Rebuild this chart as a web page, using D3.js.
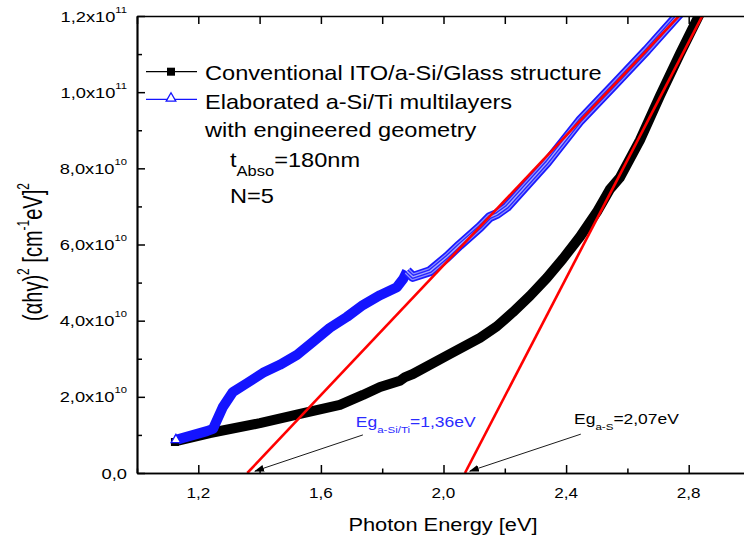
<!DOCTYPE html>
<html>
<head>
<meta charset="utf-8">
<script src="https://cdn.jsdelivr.net/npm/d3@7"></script>
<style>
  body { margin: 0; background: #fff; }
  svg { display: block; }
  text { font-family: "Liberation Sans", Arial, sans-serif; fill: #000; }
</style>
</head>
<body>
<svg id="chart" width="744" height="544"></svg>
<script>
// values; absorption in units of 1e10 cm^-2 eV^2
const blackE = [1.127, 1.238, 1.401, 1.532, 1.662, 1.737, 1.793, 1.858, 1.875, 1.900, 2.011, 2.119,
                2.174, 2.226, 2.282, 2.337, 2.389, 2.445, 2.500, 2.543, 2.575, 2.641, 2.706, 2.771, 2.845];
const blackA = [0.84, 1.05, 1.31, 1.55, 1.79, 2.05, 2.26, 2.42, 2.52, 2.60, 3.08, 3.55,
                3.85, 4.22, 4.65, 5.12, 5.62, 6.20, 6.85, 7.45, 7.75, 8.74, 9.90, 11.0, 12.2];

const blueE = [1.127, 1.228, 1.248, 1.280, 1.313, 1.359, 1.411, 1.466, 1.522, 1.574, 1.629, 1.685,
               1.737, 1.793, 1.848, 1.868, 1.881, 1.900, 1.956, 2.011, 2.053, 2.119, 2.151, 2.174,
               2.207, 2.337, 2.445, 2.553, 2.663, 2.785];
const blueA = [0.87, 1.10, 1.16, 1.73, 2.13, 2.36, 2.63, 2.84, 3.10, 3.44, 3.81, 4.10,
               4.41, 4.67, 4.88, 5.09, 5.30, 5.15, 5.30, 5.67, 5.99, 6.46, 6.72, 6.80,
               6.99, 8.15, 9.25, 10.16, 11.10, 12.2];

// linear fits (Tauc) : intercept and slope
const fitEg = [1.36, 2.07];
const fitSlope = [8.52, 15.5];

const xMajor = [1.2, 1.6, 2.0, 2.4, 2.8];
const xMinor = [1.0, 1.4, 1.8, 2.2, 2.6, 3.0];
const yMajor = [0, 2, 4, 6, 8, 10, 12];
const yMinor = [1, 3, 5, 7, 9, 11];
const rightTicks = [1, 2, 3, 4];

const legendNames = ["Conventional ITO/a-Si/Glass structure", "Elaborated a-Si/Ti multilayers"];

// annotations: text anchor and arrow (tail -> tip) in data units
const notes = [
  {main: "Eg", sub: "a-Si/Ti", rest: "=1,36eV", color: "#2b2bff", tE: 1.714, tA: 1.22, aE: [1.737, 1.385], aA: [1.0, 0.05]},
  {main: "Eg", sub: "a-S", rest: "=2,07eV", color: "#000", tE: 2.426, tA: 1.29, aE: [2.448, 2.086], aA: [1.02, 0.05]}
];

const SX = 1.18; // the picture is a bit wider than it is tall

const svg = d3.select("#chart");
const x = d3.scaleLinear().domain([1.0, 3.0]).range([137, 750]);
const y = d3.scaleLinear().domain([0, 12]).range([473, 16]);
const yR = d3.scaleLinear().domain([-0.21, 5]).range([473, 16]);

svg.append("rect").attr("width", 744).attr("height", 544).attr("fill", "#fff");

const defs = svg.append("defs");
defs.append("clipPath").attr("id", "plot")
  .append("rect").attr("x", 137).attr("y", 16).attr("width", 613).attr("height", 457);
defs.append("marker").attr("id", "head")
  .attr("markerUnits", "userSpaceOnUse")
  .attr("markerWidth", 10).attr("markerHeight", 8)
  .attr("refX", 9).attr("refY", 3.5).attr("orient", "auto")
  .append("path").attr("d", "M0,0L10,3.5L0,7Z").attr("fill", "#000");

function stext(g, px, py, anchor, size) {
  return g.append("text")
    .attr("transform", `translate(${px},${py}) scale(${SX},1)`)
    .attr("text-anchor", anchor)
    .attr("font-size", size);
}

const line = d3.line().x(d => x(d[0])).y(d => y(d[1]));
const blackPts = blackE.map((e, i) => [e, blackA[i]]);
const bluePts = blueE.map((e, i) => [e, blueA[i]]);

const plot = svg.append("g").attr("clip-path", "url(#plot)");

plot.append("path").datum(blackPts)
  .attr("d", line).attr("fill", "none")
  .attr("stroke", "#000").attr("stroke-width", 10).attr("stroke-linejoin", "round");

// blue band: solid in the lower part, striped (dense open triangles) above
const split = 16;
const blueLow = bluePts.slice(0, split + 1);
const blueHigh = bluePts.slice(split);
plot.append("path").datum(blueLow)
  .attr("d", line).attr("fill", "none")
  .attr("stroke", "#1414ff").attr("stroke-width", 10).attr("stroke-linejoin", "round");
[[10, "#1a1aff"], [6.5, "#8c8cff"], [4, "#2424ff"], [1.4, "#a8a8ff"]].forEach(([w, c]) => {
  plot.append("path").datum(blueHigh)
    .attr("d", line).attr("fill", "none")
    .attr("stroke", c).attr("stroke-width", w).attr("stroke-linejoin", "round");
});

// red linear fits
plot.selectAll(".fit").data(fitEg).enter().append("line")
  .attr("class", "fit")
  .attr("x1", d => x(d)).attr("y1", y(0))
  .attr("x2", (d, i) => x(d + 12.2 / fitSlope[i])).attr("y2", (d, i) => y(12.2))
  .attr("stroke", "#ff0000").attr("stroke-width", 2.6);

// first-point markers
plot.append("rect")
  .attr("x", x(blackE[0]) - 5).attr("y", y(blackA[0]) - 3).attr("width", 8).attr("height", 8)
  .attr("fill", "#000");
const tri = d3.symbol().type(d3.symbolTriangle).size(40);
plot.append("path").attr("d", tri())
  .attr("transform", `translate(${x(blueE[0])},${y(blueA[0])})`)
  .attr("fill", "#fff").attr("stroke", "#1414ff").attr("stroke-width", 1.3);

// axes
function styleAxis(g) {
  g.selectAll(".domain").attr("stroke-width", 1.7).attr("stroke", "#000");
  g.selectAll(".tick line").attr("stroke-width", 1.5).attr("stroke", "#000");
  g.selectAll(".tick text").remove();
}
svg.append("g").attr("transform", `translate(0,${y(0)})`)
  .call(d3.axisBottom(x).tickValues(xMajor).tickSize(-8).tickSizeOuter(0).tickFormat("")).call(styleAxis);
svg.append("g").attr("transform", `translate(0,${y(0)})`)
  .call(d3.axisBottom(x).tickValues(xMinor).tickSize(-4.5).tickSizeOuter(0).tickFormat("")).call(styleAxis);
svg.append("g").attr("transform", `translate(0,${y(12)})`)
  .call(d3.axisTop(x).tickValues(xMajor.concat(xMinor)).tickSize(-8).tickSizeOuter(0).tickFormat("")).call(styleAxis);
svg.append("g").attr("transform", `translate(${x(1.0)},0)`)
  .call(d3.axisLeft(y).tickValues(yMajor).tickSize(-8).tickSizeOuter(0).tickFormat("")).call(styleAxis);
svg.append("g").attr("transform", `translate(${x(1.0)},0)`)
  .call(d3.axisLeft(y).tickValues(yMinor).tickSize(-5).tickSizeOuter(0).tickFormat("")).call(styleAxis);
svg.append("g").attr("transform", `translate(${x(3.0)},0)`)
  .call(d3.axisRight(yR).tickValues(rightTicks).tickSize(-5).tickSizeOuter(0).tickFormat("")).call(styleAxis);

// tick labels
xMajor.forEach(v => {
  stext(svg, x(v), 498, "middle", 14.5).text(d3.format(".1f")(v).replace(".", ","));
});
yMajor.forEach(v => {
  const t = stext(svg, x(1.0) - 10, y(v) + 5.6, "end", 15.5);
  if (v === 0) { t.text("0,0"); return; }
  const exp = v >= 10 ? 11 : 10;
  const man = v >= 10 ? v / 10 : v;
  t.append("tspan").text(d3.format(".1f")(man).replace(".", ",") + "x10");
  t.append("tspan").attr("dy", -9).attr("font-size", 9.5).text(exp);
});

// axis titles
stext(svg, 443, 531, "middle", 18.5).text("Photon Energy [eV]");
const yt = svg.append("text")
  .attr("transform", `translate(42,252) rotate(-90) scale(1,1.4)`)
  .attr("text-anchor", "middle").attr("font-size", 20);
yt.append("tspan").text("(\u03b1h\u03b3)");
yt.append("tspan").attr("dy", -9).attr("font-size", 12).text("2");
yt.append("tspan").attr("dy", 9).text(" [cm");
yt.append("tspan").attr("dy", -9).attr("font-size", 12).text("-1");
yt.append("tspan").attr("dy", 9).text("eV]");
yt.append("tspan").attr("dy", -9).attr("font-size", 12).text("2");

// legend
const legY = [71.7, 99.3];
svg.append("line").attr("x1", 146).attr("x2", 197).attr("y1", legY[0]).attr("y2", legY[0])
  .attr("stroke", "#000").attr("stroke-width", 1.3);
svg.append("rect").attr("x", 167).attr("y", legY[0] - 4).attr("width", 8).attr("height", 8).attr("fill", "#000");
svg.append("line").attr("x1", 146).attr("x2", 197).attr("y1", legY[1]).attr("y2", legY[1])
  .attr("stroke", "#1414ff").attr("stroke-width", 1.3);
svg.append("path").attr("d", tri()).attr("transform", `translate(171,${legY[1] - 1})`)
  .attr("fill", "#fff").attr("stroke", "#1414ff").attr("stroke-width", 1.3);

stext(svg, 205, 80, "start", 20).text(legendNames[0]);
stext(svg, 205, 108.5, "start", 20).text(legendNames[1]);
stext(svg, 205, 137, "start", 20).text("with engineered geometry");
const tt = stext(svg, 230, 166.5, "start", 20);
tt.append("tspan").text("t");
tt.append("tspan").attr("dy", 9).attr("font-size", 14).text("Abso");
tt.append("tspan").attr("dy", -9).text("=180nm");
stext(svg, 230, 203, "start", 20).text("N=5");

// gap annotations
notes.forEach(n => {
  svg.append("line")
    .attr("x1", x(n.aE[0])).attr("y1", y(n.aA[0]))
    .attr("x2", x(n.aE[1])).attr("y2", y(n.aA[1]))
    .attr("stroke", "#000").attr("stroke-width", 0.9)
    .attr("marker-end", "url(#head)");
  const t = stext(svg, x(n.tE), y(n.tA), "start", 14.8);
  t.append("tspan").attr("fill", n.color).text(n.main);
  t.append("tspan").attr("fill", n.color).attr("dy", 6).attr("font-size", 9.8).text(n.sub);
  t.append("tspan").attr("fill", n.color).attr("dy", -6).text(n.rest);
});
</script>
</body>
</html>
